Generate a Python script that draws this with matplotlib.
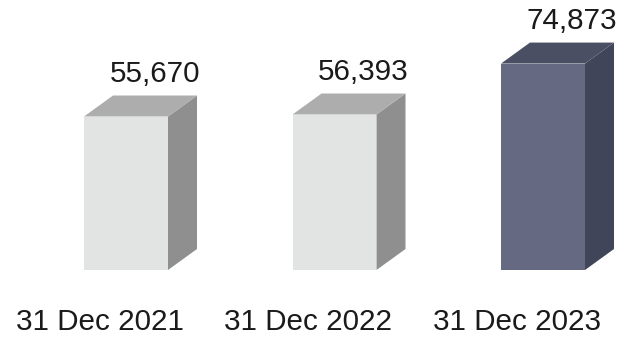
import matplotlib

matplotlib.use("Agg")
import matplotlib.pyplot as plt
from matplotlib.patches import Polygon

plt.rcParams["font.family"] = ["Liberation Sans", "DejaVu Sans"]

# Year-end values
PERIODS = ["31 Dec 2021", "31 Dec 2022", "31 Dec 2023"]
VALUES = [55670, 56393, 74873]
VALUE_LABELS = ["55,670", "56,393", "74,873"]

# front / top / side shading per bar
FRONT = ["#e2e3e3", "#e2e3e3", "#656a82"]
TOP = ["#adadad", "#adadad", "#4a4f63"]
SIDE = ["#8f8f8f", "#8f8f8f", "#40455a"]

W_PX, H_PX, DPI = 618, 343, 100
BASE_PX = 73            # height of the baseline above the figure bottom
UNITS_PER_PX = 362.7    # value units per vertical pixel
SLOT_PX = 208.5         # horizontal pixels per category
FIRST_PX = 100          # pixel x of the first category centre

# bar geometry in data units
x_off = -16 / SLOT_PX
bar_w = 84 / SLOT_PX
depth_x = 29 / SLOT_PX
depth_y = 21 * UNITS_PER_PX
label_gap = 14 * UNITS_PER_PX


def main() -> None:
    fig = plt.figure(figsize=(W_PX / DPI, H_PX / DPI), dpi=DPI)
    ax = fig.add_axes([0, BASE_PX / H_PX, 1, 1 - BASE_PX / H_PX])
    ax.set_xlim(-FIRST_PX / SLOT_PX, (W_PX - FIRST_PX) / SLOT_PX)
    ax.set_ylim(0, (H_PX - BASE_PX) * UNITS_PER_PX)

    for i, v in enumerate(VALUES):
        x0 = i + x_off
        x1 = x0 + bar_w
        front = [(x0, 0), (x1, 0), (x1, v), (x0, v)]
        top = [(x0, v), (x1, v), (x1 + depth_x, v + depth_y), (x0 + depth_x, v + depth_y)]
        side = [(x1, 0), (x1 + depth_x, depth_y), (x1 + depth_x, v + depth_y), (x1, v)]
        for pts, col in ((side, SIDE[i]), (top, TOP[i]), (front, FRONT[i])):
            ax.add_patch(Polygon(pts, closed=True, facecolor=col, edgecolor="none",
                                 clip_on=False))
        ax.text(x0 + bar_w / 2 + depth_x, v + depth_y + label_gap, VALUE_LABELS[i],
                ha="center", va="baseline", fontsize=21.3, color="#1a1a1a",
                clip_on=False)

    ax.set_xticks(range(len(PERIODS)))
    ax.set_xticklabels(PERIODS, fontsize=21.3, color="#1a1a1a")
    ax.tick_params(axis="x", length=0, pad=27)
    ax.set_yticks([])
    for s in ax.spines.values():
        s.set_visible(False)

    fig.savefig("out.png", dpi=DPI)


if __name__ == "__main__":
    main()
